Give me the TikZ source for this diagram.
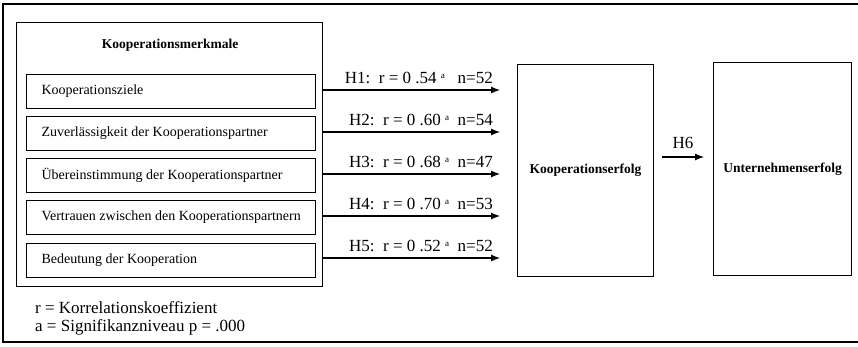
\documentclass[tikz,border=0pt]{standalone}
\usepackage{fontspec}
\setmainfont{Liberation Serif}
\usetikzlibrary{arrows.meta,calc}
\begin{document}
\begin{tikzpicture}[x=1pt,y=-1pt,
  frame/.style={draw, line width=1.1pt},
  item/.style={draw, line width=1.1pt, minimum width=289pt, minimum height=34pt, anchor=north west, inner sep=0pt},
  itemtext/.style={anchor=west, font=\fontsize{14}{16}\selectfont},
  bigbox/.style={draw, line width=1.1pt, anchor=north west, inner sep=0pt},
  hyp/.style={draw, line width=1.1pt, -{Latex[length=9pt,width=7pt]}},
  lab/.style={anchor=base east, font=\fontsize{17}{19}\selectfont, inner sep=0pt},
  note/.style={anchor=west, font=\fontsize{17}{19}\selectfont, inner sep=0pt}]
\useasboundingbox (0,0) rectangle (858,346);
% outer frame (right side cut)
\draw[line width=1.2pt] (858,4) -- (3,4) -- (3,342) -- (858,342);
% inner group
\node[frame, anchor=north west, minimum width=306pt, minimum height=264pt, inner sep=0pt] (grp) at (16,22) {};
\node[font=\bfseries\fontsize{13.5}{15}\selectfont] (title) at (170,45) {Kooperationsmerkmale};
\node[item] (b1) at (26,74) {};
\node[item] (b2) at (26,116) {};
\node[item] (b3) at (26,158) {};
\node[item] (b4) at (26,200) {};
\node[item] (b5) at (26,243) {};
\node[itemtext] at ([xshift=12pt]b1.west) {Kooperationsziele};
\node[itemtext] at ([xshift=12pt]b2.west) {Zuverlässigkeit der Kooperationspartner};
\node[itemtext] at ([xshift=12pt]b3.west) {Übereinstimmung der Kooperationspartner};
\node[itemtext] at ([xshift=12pt]b4.west) {Vertrauen zwischen den Kooperationspartnern};
\node[itemtext] at ([xshift=12pt]b5.west) {Bedeutung der Kooperation};
% target boxes
\node[bigbox, minimum width=136pt, minimum height=212pt] (ke) at (517,64) {};
\node[font=\bfseries\fontsize{13.5}{15}\selectfont] at (ke.center) {Kooperationserfolg};
\node[bigbox, minimum width=138pt, minimum height=213pt] (ue) at (713,62) {};
\node[font=\bfseries\fontsize{13.5}{15}\selectfont] at (ue.center) {Unternehmenserfolg};
% coordinates for arrows
\coordinate (s1) at (322,90); \coordinate (t1) at (500,90);
\coordinate (s2) at (322,132); \coordinate (t2) at (500,132);
\coordinate (s3) at (322,174); \coordinate (t3) at (500,174);
\coordinate (s4) at (322,216); \coordinate (t4) at (500,216);
\coordinate (s5) at (322,258); \coordinate (t5) at (500,258);
\draw[hyp] (s1) -- (t1);
\draw[hyp] (s2) -- (t2);
\draw[hyp] (s3) -- (t3);
\draw[hyp] (s4) -- (t4);
\draw[hyp] (s5) -- (t5);
\node[lab] at ([xshift=-7pt,yshift=7pt]t1) {H1:\ \ r = 0 .54 \raisebox{0.6ex}{\fontsize{9}{10}\selectfont a}\ \ \ n=52};
\node[lab] at ([xshift=-7pt,yshift=7pt]t2) {H2:\ \ r = 0 .60 \raisebox{0.6ex}{\fontsize{9}{10}\selectfont a}\ \ n=54};
\node[lab] at ([xshift=-7pt,yshift=7pt]t3) {H3:\ \ r = 0 .68 \raisebox{0.6ex}{\fontsize{9}{10}\selectfont a}\ \ n=47};
\node[lab] at ([xshift=-7pt,yshift=7pt]t4) {H4:\ \ r = 0 .70 \raisebox{0.6ex}{\fontsize{9}{10}\selectfont a}\ \ n=53};
\node[lab] at ([xshift=-7pt,yshift=7pt]t5) {H5:\ \ r = 0 .52 \raisebox{0.6ex}{\fontsize{9}{10}\selectfont a}\ \ n=52};
% H6
\coordinate (h6s) at (662,157); \coordinate (h6t) at (704,157);
\draw[hyp] (h6s) -- (h6t);
\node[font=\fontsize{17}{19}\selectfont, anchor=base, inner sep=0pt] at ([yshift=9pt]$(h6s)!0.5!(h6t)$) {H6};
% notes
\node[note] (n1) at (35,308) {r = Korrelationskoeffizient};
\node[note] (n2) at (35,327) {a = Signifikanzniveau p = .000};
\end{tikzpicture}
\end{document}
